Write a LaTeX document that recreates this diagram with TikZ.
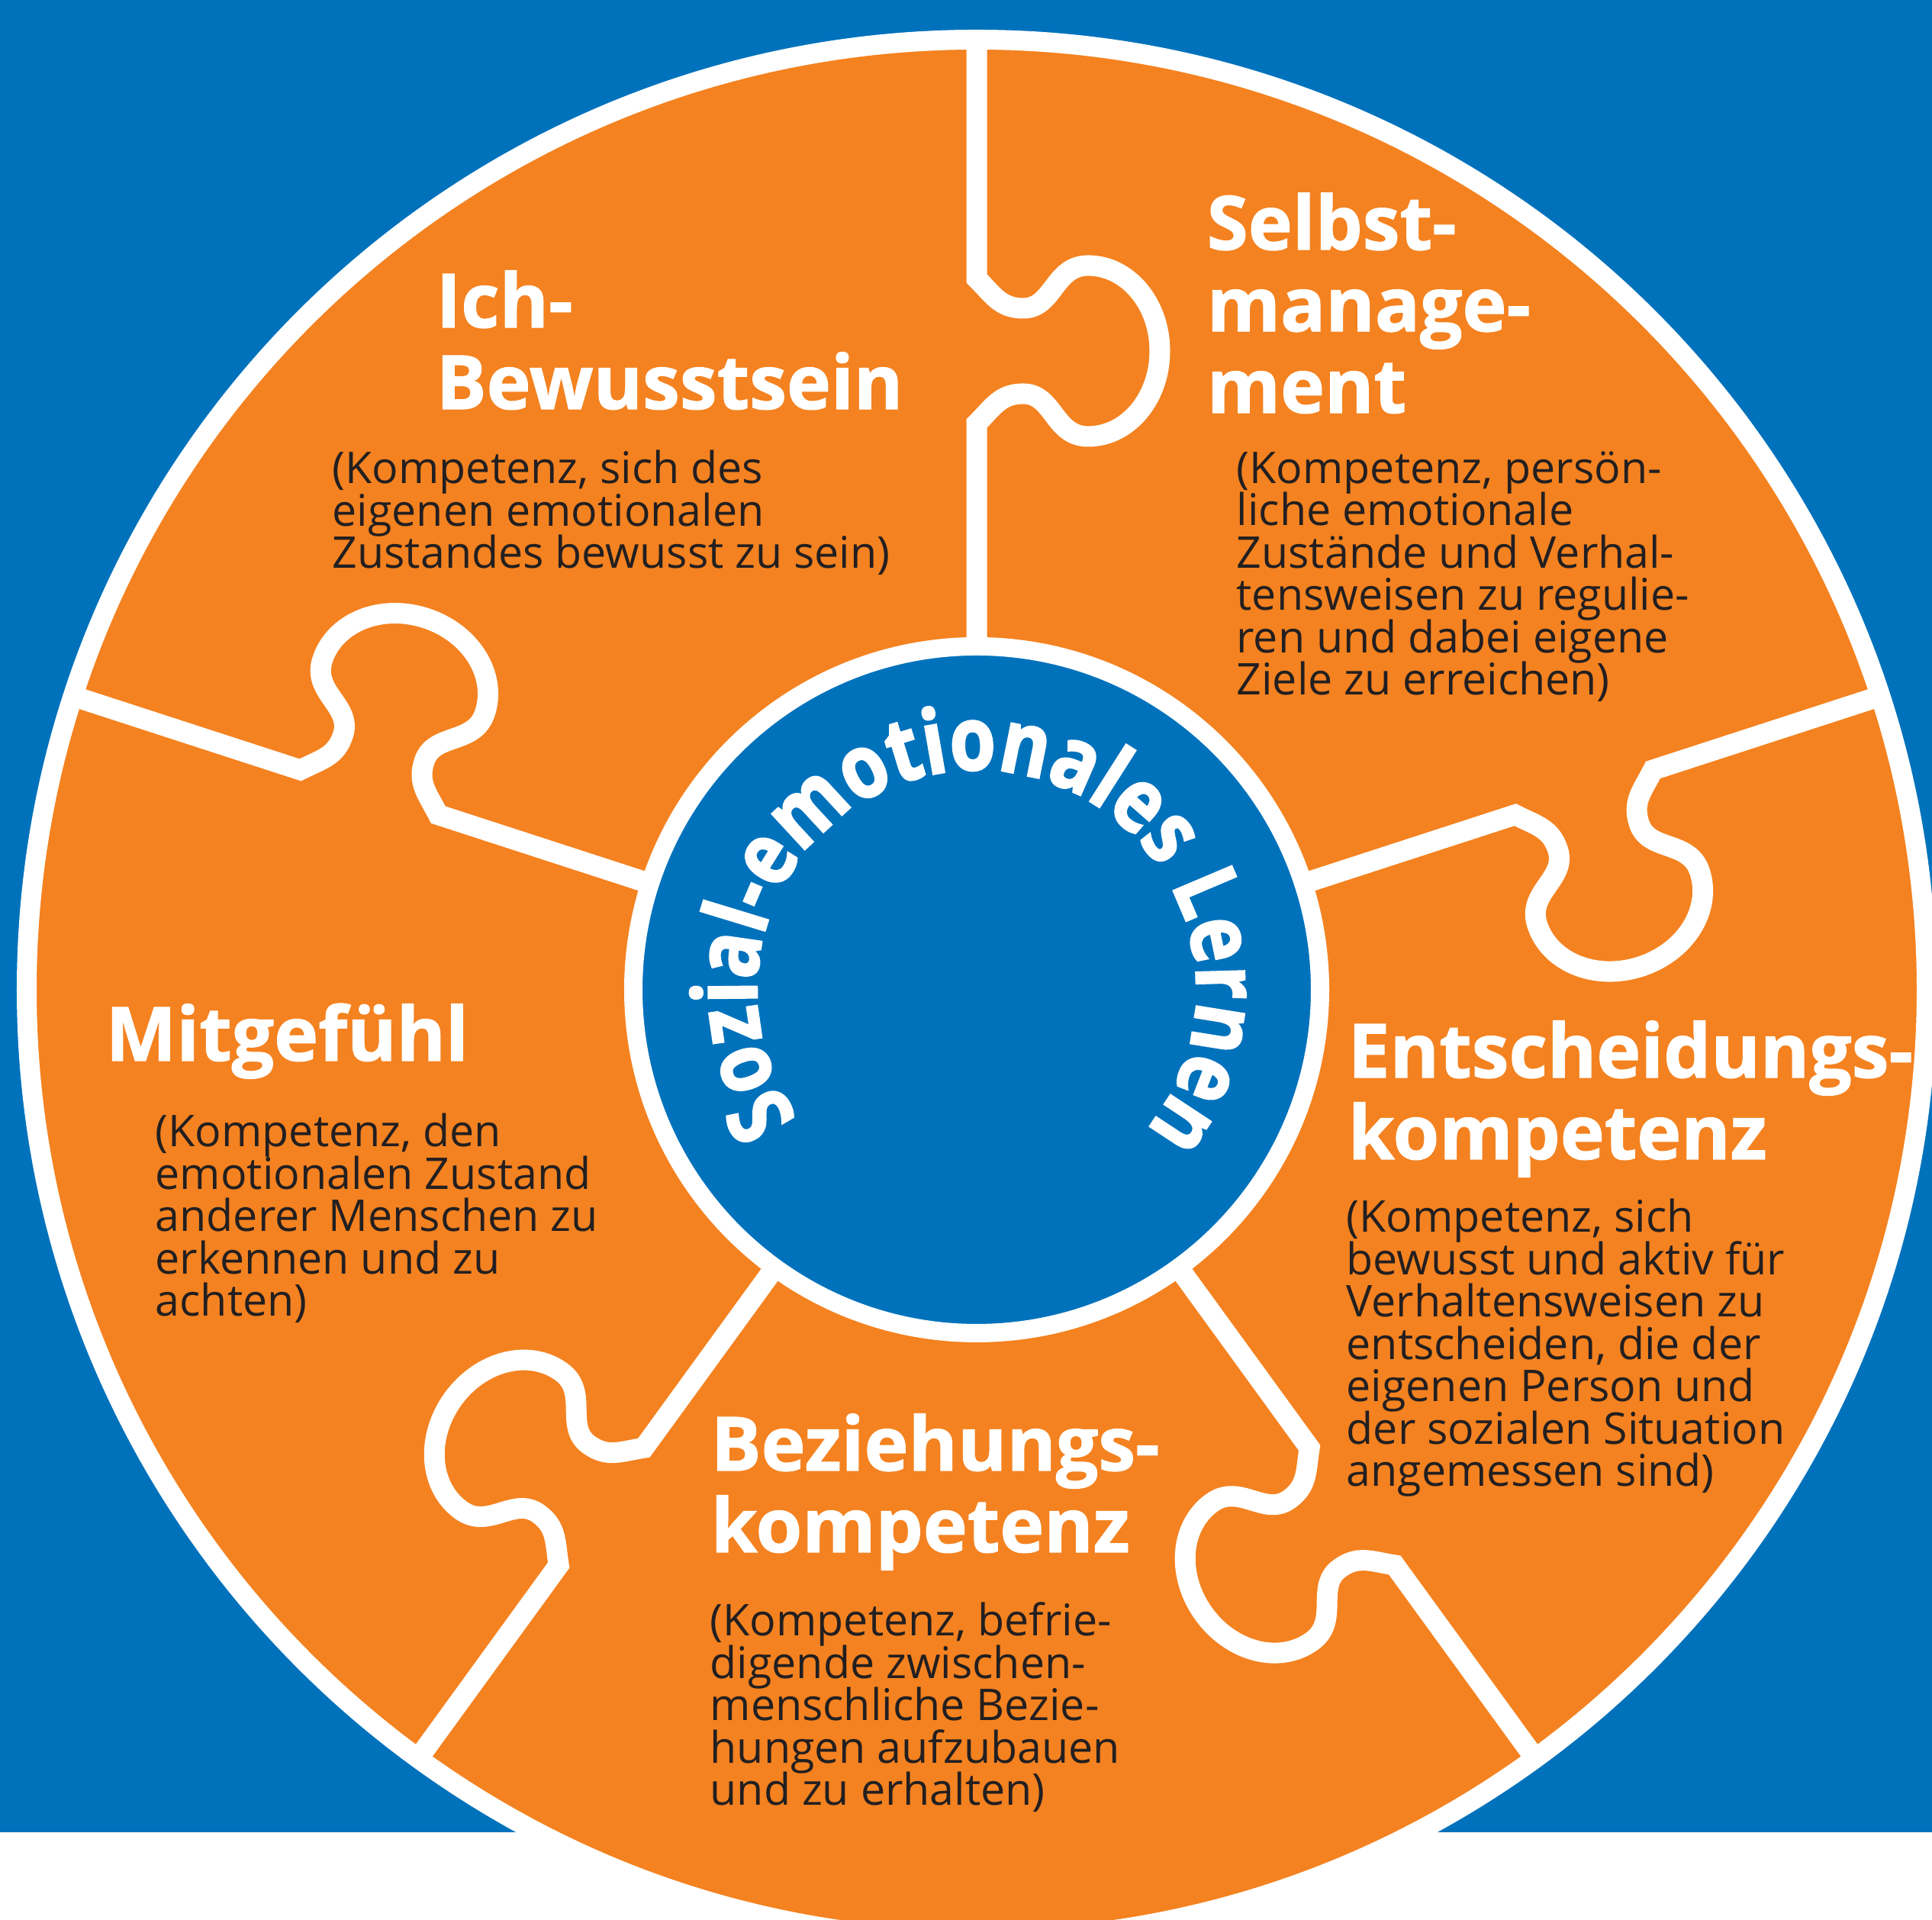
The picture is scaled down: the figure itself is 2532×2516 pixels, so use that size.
\documentclass[tikz,border=0pt]{standalone}
\usepackage{fontspec}
\setmainfont{Open Sans}[BoldFeatures={FakeBold=1.2}]
\newfontfamily\centerfont{Open Sans}[FakeStretch=0.84, BoldFeatures={FakeBold=2.2}]
\usetikzlibrary{decorations.text}
\definecolor{sorange}{RGB}{244,130,32}
\definecolor{sblue}{RGB}{0,114,188}
\definecolor{stext}{RGB}{35,31,32}
\lineskiplimit=-100pt
\newcommand{\myheadfont}{\bfseries\fontsize{27.9pt}{30.4pt}\selectfont}
\newcommand{\mydescfont}{\fontsize{16.3pt}{15.8pt}\selectfont}
\newcommand{\mycenterfont}{\centerfont\bfseries\fontsize{33pt}{33pt}\selectfont}
\tikzset{
  connector/.style={white, line width=0.27cm, line join=miter},
  heading/.style={text=white, font=\myheadfont, align=left, anchor=base west, inner sep=0pt},
  desc/.style={text=stext, font=\mydescfont, align=left, anchor=base west, inner sep=0pt}
}
\begin{document}
\begin{tikzpicture}[x=0.01cm,y=0.01cm]
\useasboundingbox (0,0) rectangle (2532,2516);
\clip (0,0) rectangle (2532,2516);
\fill[white] (0,0) rectangle (2532,2516);
\fill[sblue] (0,115) rectangle (2532,2516);
\coordinate (C) at (1280,1219);
\fill[sorange] (C) circle[radius=1245];
\draw[white, line width=0.26cm] (C) circle[radius=1245];
\foreach \a in {0,72,144,216,288} {
  \draw[connector, shift={(1280,1219)}, rotate=\a]
    (0,440) -- (0,742)
    .. controls (22,764) and (31,781) .. (61,781)
    .. controls (101,781) and (101,725) .. (146,725)
    .. controls (198,725) and (240,775) .. (240,837)
    .. controls (240,899) and (198,949) .. (146,949)
    .. controls (101,949) and (101,893) .. (61,893)
    .. controls (31,893) and (22,910) .. (0,932)
    -- (0,1250);
}
\filldraw[fill=sblue, draw=white, line width=0.24cm] (C) circle[radius=450];
\path[decorate, decoration={text along path, text color=white,
  text={|\mycenterfont|Sozial-emotionales Lernen},
  text align=center}]
  (C) ++(220:288) arc[start angle=220, end angle=-44, radius=288];
% Ich-Bewusstsein (anchor = baseline of last line)
\node[heading] (h1) at (571,1980) {Ich-\\Bewusstsein};
\node[desc] (d1) at (435,1771) {(Kompetenz, sich des\\eigenen emotionalen\\Zustandes bewusst zu sein)};
% Selbstmanagement
\node[heading] (h2) at (1581,1975) {Selbst-\\manage-\\ment};
\node[desc] (d2) at (1620,1605) {(Kompetenz, persön-\\liche emotionale\\Zustände und Verhal-\\tensweisen zu regulie-\\ren und dabei eigene\\Ziele zu erreichen)};
% Entscheidungskompetenz
\node[heading] (h3) at (1766,997) {Entscheidungs-\\kompetenz};
\node[desc] (d3) at (1764,568) {(Kompetenz, sich\\bewusst und aktiv für\\Verhaltensweisen zu\\entscheiden, die der\\eigenen Person und\\der sozialen Situation\\angemessen sind)};
% Beziehungskompetenz
\node[heading] (h4) at (931,482) {Beziehungs-\\kompetenz};
\node[desc] (d4) at (930,150) {(Kompetenz, befrie-\\digende zwischen-\\menschliche Bezie-\\hungen aufzubauen\\und zu erhalten)};
% Mitgefuehl
\node[heading] (h5) at (138,1126) {Mitgefühl};
\node[desc] (d5) at (203,791) {(Kompetenz, den\\emotionalen Zustand\\anderer Menschen zu\\erkennen und zu\\achten)};
\end{tikzpicture}
\end{document}
